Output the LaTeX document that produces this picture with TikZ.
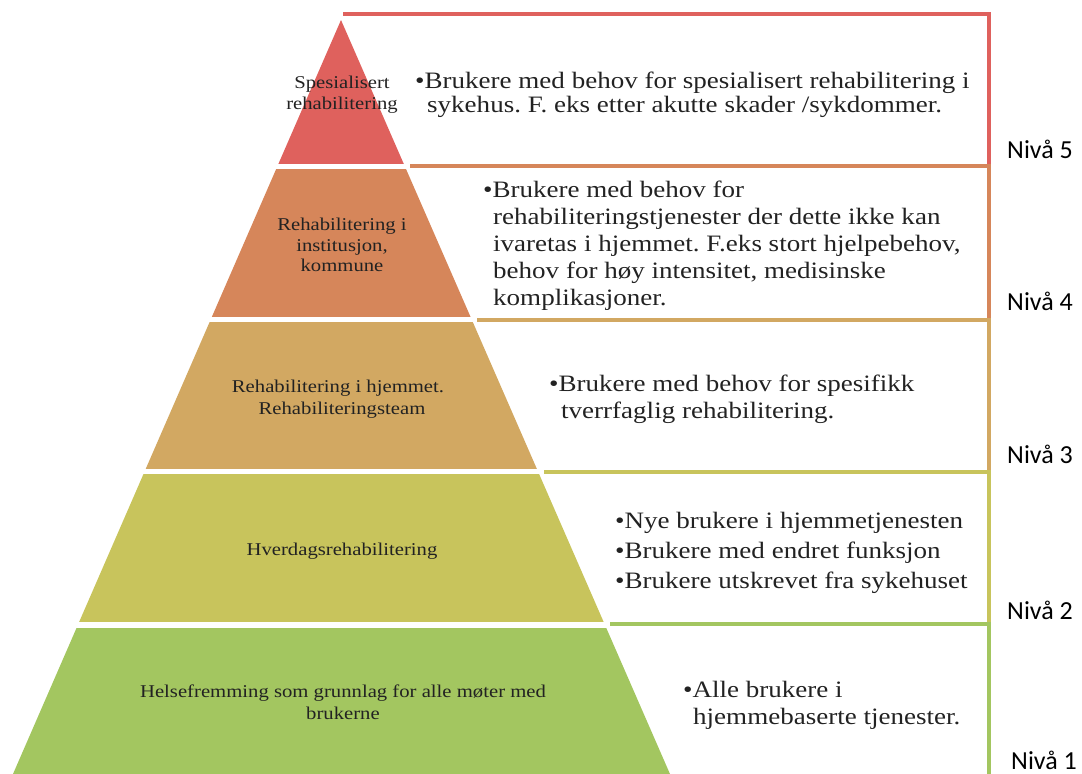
\documentclass[tikz,border=0pt]{standalone}
\usepackage{fontspec}
\setmainfont{Liberation Serif}[FakeStretch=1.15]
\newfontfamily\nivafont{Carlito}
\usepackage{tikz}
\frenchspacing

\definecolor{lvlfive}{RGB}{223,97,93}
\definecolor{lvlfour}{RGB}{214,134,90}
\definecolor{lvlthree}{RGB}{210,168,98}
\definecolor{lvltwo}{RGB}{200,196,92}
\definecolor{lvlone}{RGB}{163,198,96}
\definecolor{inkgray}{RGB}{34,34,34}

\begin{document}
\begin{tikzpicture}[x=1pt,y=-1pt,
    sep/.style={line width=3.5pt},
    lbl/.style={font=\fontsize{18}{20}\selectfont, text=inkgray, inner sep=0pt, anchor=base},
    txt/.style={font=\fontsize{23.5}{27}\selectfont, text=inkgray, inner sep=0pt, anchor=base west},
    niva/.style={font=\nivafont\fontsize{26}{30}\selectfont, text=black, inner sep=0pt, anchor=base west}]

    \useasboundingbox (0,0) rectangle (1082,774);

    % pyramid
    \coordinate (apex) at (341,20);
    \coordinate (bl) at (13,774);
    \coordinate (br) at (670,774);
    \begin{scope}
        \clip (apex) -- (bl) -- (br) -- cycle;
        \fill[lvlfive] (0,0) rectangle (1082,164);
        \fill[lvlfour] (0,169) rectangle (1082,317);
        \fill[lvlthree] (0,322) rectangle (1082,469);
        \fill[lvltwo] (0,474) rectangle (1082,622);
        \fill[lvlone] (0,628) rectangle (1082,780);
    \end{scope}

    % boxes on the right
    \draw[sep, lvlfive] (343,14) -- (989,14) -- (989,166);
    \draw[sep, lvlfour] (410,166) -- (989,166) -- (989,320);
    \draw[sep, lvlthree] (477,320) -- (989,320) -- (989,472);
    \draw[sep, lvltwo] (544,472) -- (989,472) -- (989,624);
    \draw[sep, lvlone] (610,624) -- (989,624) -- (989,780);

    % pyramid labels
    \node[lbl] (p5a) at (342,88) {Spesialisert};
    \node[lbl] (p5b) at (342,109) {rehabilitering};
    \node[lbl] (p4a) at (342,230) {Rehabilitering i};
    \node[lbl] (p4b) at (342,251) {institusjon,};
    \node[lbl] (p4c) at (342,271) {kommune};
    \node[lbl] (p3a) at (338,392) {Rehabilitering i hjemmet.};
    \node[lbl] (p3b) at (342,414) {Rehabiliteringsteam};
    \node[lbl] (p2a) at (342,555) {Hverdagsrehabilitering};
    \node[lbl] (p1a) at (343,697) {Helsefremming som grunnlag for alle møter med};
    \node[lbl] (p1b) at (343,719) {brukerne};

    % box texts
    \node[txt] (t5a) at (415,88) {•Brukere med behov for spesialisert rehabilitering i};
    \node[txt] (t5b) at (427,112) {sykehus. F. eks etter akutte skader /sykdommer.};
    \node[txt] (t4a) at (483,197) {•Brukere med behov for};
    \node[txt] (t4b) at (493,224) {rehabiliteringstjenester der dette ikke kan};
    \node[txt] (t4c) at (493,251) {ivaretas i hjemmet. F.eks stort hjelpebehov,};
    \node[txt] (t4d) at (493,278) {behov for høy intensitet, medisinske};
    \node[txt] (t4e) at (493,305) {komplikasjoner.};
    \node[txt] (t3a) at (549,391) {•Brukere med behov for spesifikk};
    \node[txt] (t3b) at (561,418) {tverrfaglig rehabilitering.};
    \node[txt] (t2a) at (615,528) {•Nye brukere i hjemmetjenesten};
    \node[txt] (t2b) at (615,558) {•Brukere med endret funksjon};
    \node[txt] (t2c) at (615,588) {•Brukere utskrevet fra sykehuset};
    \node[txt] (t1a) at (683,697) {•Alle brukere i};
    \node[txt] (t1b) at (693,724) {hjemmebaserte tjenester.};

    % level labels
    \node[niva] (n5) at (1007,158) {Nivå 5};
    \node[niva] (n4) at (1007,310) {Nivå 4};
    \node[niva] (n3) at (1007,463) {Nivå 3};
    \node[niva] (n2) at (1007,619) {Nivå 2};
    \node[niva] (n1) at (1011,769) {Nivå 1};
\end{tikzpicture}
\end{document}
